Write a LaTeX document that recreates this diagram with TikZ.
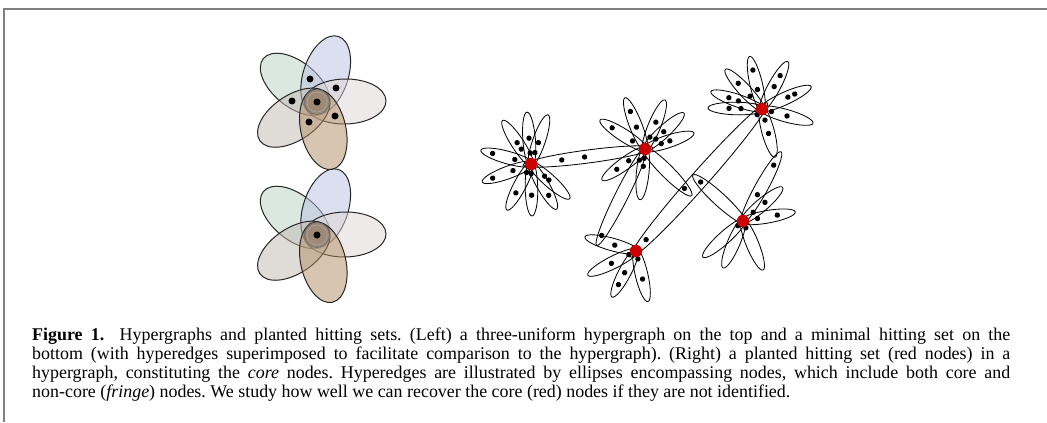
\documentclass[tikz,border=0pt]{standalone}
\usepackage{fontspec}
\setmainfont{Liberation Serif}
\definecolor{fblue}{RGB}{187,193,225}
\definecolor{fgreen}{RGB}{185,211,197}
\definecolor{fright}{RGB}{223,215,215}
\definecolor{fgray}{RGB}{193,185,177}
\definecolor{fbrown}{RGB}{179,141,101}
\definecolor{ccirc}{RGB}{110,90,70}
\definecolor{corered}{RGB}{204,0,0}
\tikzset{
  flw/.style={draw=black!85, line width=0.85pt, fill opacity=0.5},
  hyper/.style={draw=black, line width=0.7pt},
  fringe/.style={fill=black},
  core/.style={circle, fill=corered, inner sep=0pt, minimum size=3.7mm},
  frameline/.style={draw=gray, line width=1.2pt},
}
\newcommand\hbig[7]{%
  \begin{scope}[shift={(#1)},rotate=#2]
    \draw[hyper] ({#3/2},0) ellipse ({#3/2+#6} and #7);
    \fill[fringe] ({#4*#3},0) circle (2.7);
    \fill[fringe] ({#5*#3},0) circle (2.7);
  \end{scope}}
\newcommand\hpetal[5]{\hbig{#1}{#2}{#3}{#4}{#5}{4}{6.3}}
\newcommand\flowerset{%
  \filldraw[flw, fill=fgreen, rotate around={141:(295.2,84.4)}] (295.2,84.4) ellipse (41 and 22.5);
  \filldraw[flw, fill=fblue, rotate around={72:(325.7,75.4)}] (325.7,75.4) ellipse (41 and 22.5);
  \filldraw[flw, fill=fright, rotate around={1:(345,101.5)}] (345,101.5) ellipse (41 and 22.5);
  \filldraw[flw, fill=fgray, rotate around={214:(293.8,117.7)}] (293.8,117.7) ellipse (41 and 22.5);
  \filldraw[flw, fill=fbrown, rotate around={283:(323.3,129.3)}] (323.3,129.3) ellipse (41 and 22.5);
  \filldraw[fill=ccirc, fill opacity=0.4, draw=black!55, line width=0.7pt] (317,102) circle (12.5);
  \draw[black!35, line width=0.5pt] (317,102) circle (10);
  \fill (317,102) circle (3.5);}
\begin{document}
\frenchspacing
\begin{tikzpicture}[x=0.03cm,y=-0.03cm]
\useasboundingbox (0,0) rectangle (1047,422);
\fill[white] (0,0) rectangle (1047,422);
% frame
\coordinate (f1) at (4,422);
\coordinate (f2) at (4,9);
\coordinate (f3) at (1047,9);
\draw[frameline] (f1) -- (f2) -- (f3);

% left: hypergraph (top) and hitting set (bottom)
\begin{scope}
  \flowerset
  \fill (310,79) circle (3.5);
  \fill (336,88) circle (3.5);
  \fill (292,101) circle (3.5);
  \fill (335,116) circle (3.5);
  \fill (309,122) circle (3.5);
\end{scope}
\begin{scope}[shift={(0,133)}]
  \flowerset
\end{scope}

% right: planted hitting set
\coordinate (A) at (531,164);
\coordinate (B) at (645,149);
\coordinate (C) at (762,109);
\coordinate (D) at (743,221);
\coordinate (E) at (636,251);

% petals of A
\hpetal{A}{164.6}{48}{0.35}{0.83}
\hpetal{A}{200.2}{48}{0.4}{0.85}
\hpetal{A}{123.1}{48}{0.37}{0.53}
\hpetal{A}{94.4}{48}{0.23}{0.54}
\hpetal{A}{70.9}{48}{0.25}{0.47}
\hpetal{A}{242.4}{48}{0.2}{0.68}
\hpetal{A}{271.1}{48}{0.2}{0.65}
\hpetal{A}{299.5}{48}{0}{0.75}
\hpetal{A}{318.1}{48}{0.38}{0.5}
\hbig{A}{7.5}{115}{0.27}{0.47}{8}{6.5}

% petals of B
\hpetal{B}{111.4}{51}{0.46}{0.79}
\hpetal{B}{67.8}{49}{0.26}{0.59}
\hpetal{B}{147.2}{49.5}{0.3}{0.79}
\hpetal{B}{42.7}{49}{0.3}{0.52}
\hpetal{B}{18.1}{47.5}{0.36}{0.55}
\hpetal{B}{215.8}{49}{0.41}{0.71}
\hpetal{B}{264.4}{47}{0.2}{0.37}
\hbig{B}{243.4}{104}{0.12}{0.93}{4}{6.5}
\hbig{B}{315}{62}{0}{0.9}{4}{6.5}

% petals of C
\hpetal{C}{103.2}{50}{0.4}{0.8}
\hpetal{C}{61.5}{50}{0.51}{0.76}
\hpetal{C}{132.7}{50}{0.35}{0.7}
\hpetal{C}{161.2}{50}{0.5}{0.7}
\hpetal{C}{178.9}{50}{0.42}{0.66}
\hpetal{C}{24.6}{50}{0.57}{0.72}
\hpetal{C}{344.4}{49}{0.2}{0.53}
\hpetal{C}{285}{46}{0.25}{0.55}

% petals of D
\hbig{D}{137.4}{64}{0}{0.9}{4}{6.5}
\hbig{D}{61.2}{75}{0.4}{0.85}{4}{6.5}
\hpetal{D}{40.4}{48}{0.28}{0.6}
\hpetal{D}{9.8}{49}{0.3}{0.71}
\hpetal{D}{222}{50}{0}{0.14}
\hpetal{D}{247}{47}{0}{0}
\hpetal{D}{292.2}{49}{0}{0.15}

% petals of E
\hpetal{E}{164.6}{49}{0.45}{0}
\hpetal{E}{206.6}{50}{0.16}{0.55}
\hpetal{E}{242.4}{48}{0.51}{0.79}
\hpetal{E}{283.2}{48}{0.17}{0.6}
\hbig{E}{48.4}{190}{0.08}{0.96}{8}{8.5}

% core nodes
\node[core] (Acore) at (A) {};
\node[core] (Bcore) at (B) {};
\node[core] (Ccore) at (C) {};
\node[core] (Dcore) at (D) {};
\node[core] (Ecore) at (E) {};

% caption
\node[anchor=base west, inner sep=0pt, font=\fontsize{15.3pt}{16.3pt}\selectfont] (cap) at (32,340) {%
\parbox[t]{834.8pt}{\setlength\baselineskip{16.3pt}%
\makebox[\linewidth][s]{\textbf{Figure 1.}\hspace{0.4em} Hypergraphs and planted hitting sets. (Left) a three-uniform hypergraph on the top and a minimal hitting set on the}\\
\makebox[\linewidth][s]{bottom (with hyperedges superimposed to facilitate comparison to the hypergraph). (Right) a planted hitting set (red nodes) in a}\\
\makebox[\linewidth][s]{hypergraph, constituting the \textit{core} nodes. Hyperedges are illustrated by ellipses encompassing nodes, which include both core and}\\
non-core (\textit{fringe}) nodes. We study how well we can recover the core (red) nodes if they are not identified.}};
\end{tikzpicture}
\end{document}
